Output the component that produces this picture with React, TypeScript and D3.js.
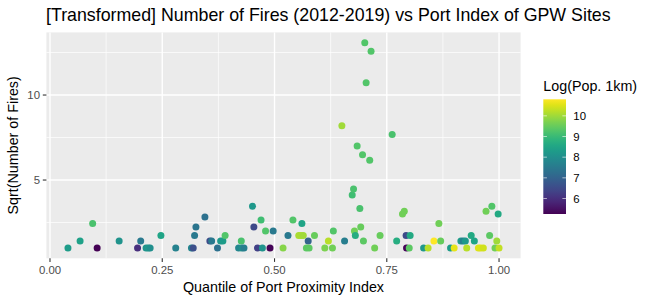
import { useEffect, useRef } from "react";
import * as d3 from "d3";

// quantile of port proximity index, one entry per site
const portQuantile = [
  0.040, 0.067, 0.095, 0.105, 0.154, 0.195, 0.202, 0.214, 0.219, 0.223,
  0.247, 0.280, 0.315, 0.319, 0.322, 0.325, 0.345, 0.356, 0.360, 0.373,
  0.380, 0.385, 0.390, 0.420, 0.426, 0.427, 0.432, 0.451, 0.454, 0.462,
  0.470, 0.473, 0.480, 0.490, 0.497, 0.519, 0.530, 0.541, 0.554, 0.559,
  0.564, 0.561, 0.575, 0.571, 0.577, 0.589, 0.612, 0.620, 0.629, 0.631,
  0.656, 0.673, 0.676, 0.678, 0.680, 0.690, 0.692, 0.698, 0.723, 0.735,
  0.772, 0.785, 0.789, 0.793, 0.802, 0.794, 0.800, 0.832, 0.842, 0.855,
  0.866, 0.870, 0.892, 0.900, 0.915, 0.920, 0.925, 0.928, 0.938, 0.945,
  0.954, 0.959, 0.965, 0.971, 0.979, 0.984, 0.991, 0.995, 0.998, 1.000,
  0.650, 0.684, 0.696, 0.712, 0.762, 0.701, 0.715, 0.704,
];

// sqrt(number of fires)
const sqrtFires = [
  1, 1.41, 2.45, 1, 1.41, 1, 1.41, 1, 1, 1,
  1.73, 1, 1, 1, 1.73, 2.24, 2.83, 1.41, 1.41, 1,
  1.41, 1.41, 1.73, 1, 1.41, 1, 1, 3.46, 2.24, 1,
  2.65, 1, 2, 1, 2, 1, 1.73, 2.65, 1.73, 1.73,
  1.73, 2.45, 1.41, 1, 1, 1.73, 1, 1.41, 1, 2,
  1.41, 4.12, 4.47, 2, 1.73, 3.32, 2.24, 1.41, 1, 1.73,
  1.41, 3, 3.16, 1.73, 1.73, 1, 1, 1, 1, 1.41,
  2.45, 1.41, 1, 1, 1.41, 1.41, 1.41, 1, 1.73, 1.41,
  1, 1, 1, 3.16, 1.73, 3.46, 1, 1.41, 3, 1,
  8.19, 7, 6.48, 6.16, 7.68, 13.08, 12.57, 10.72,
];

// log(population within 1km)
const logPop = [
  8.3, 8.4, 9.2, 5.25, 8.1, 6.0, 7.5, 8.1, 8.2, 8.0,
  8.5, 7.7, 7.8, 6.6, 7.5, 7.4, 7.3, 6.5, 7.5, 7.3,
  8.2, 8.3, 9.3, 7.8, 9.2, 8.0, 7.6, 8.2, 6.5, 6.3,
  9.1, 8.1, 9.3, 5.3, 7.5, 9.8, 7.5, 9.3, 10.1, 10.1,
  10.0, 8.5, 7.0, 9.4, 9.4, 9.5, 9.7, 10.2, 9.6, 9.3,
  7.6, 9.1, 9.2, 9.6, 8.7, 9.2, 9.5, 9.4, 9.6, 9.5,
  8.7, 9.6, 9.6, 6.5, 8.6, 5.3, 9.4, 8.2, 10.2, 10.8,
  9.6, 9.5, 8.3, 10.6, 8.3, 7.6, 8.2, 10.2, 8.6, 8.5,
  10.5, 10.5, 10.4, 9.6, 9.4, 9.3, 9.6, 10.0, 8.6, 10.3,
  10.0, 9.3, 9.3, 9.3, 9.2, 9.3, 9.3, 9.3,
];

const xBreaks = [0, 0.25, 0.5, 0.75, 1];
const xMinor = [0.125, 0.375, 0.625, 0.875];
const yBreaks = [5, 10];
const yMinor = [2.5, 7.5, 12.5];
const popBreaks = [6, 7, 8, 9, 10];

const W = 652;
const H = 303;
const FONT = "'Liberation Sans', Arial, sans-serif";

export default function App() {
  const svgRef = useRef<SVGSVGElement>(null);

  useEffect(() => {
    if (!svgRef.current) return;
    const svg = d3.select(svgRef.current);
    svg.selectAll("*").remove();

    const panel = { left: 46.4, right: 520.6, top: 32.4, bottom: 258.3 };

    // ggplot-style 5% expansion
    const xExt = d3.extent(portQuantile) as [number, number];
    const yExt = d3.extent(sqrtFires) as [number, number];
    const xPad = (xExt[1] - xExt[0]) * 0.05;
    const yPad = (yExt[1] - yExt[0]) * 0.05;

    const x = d3.scaleLinear()
      .domain([xExt[0] - xPad, xExt[1] + xPad])
      .range([panel.left, panel.right]);
    const y = d3.scaleLinear()
      .domain([yExt[0] - yPad, yExt[1] + yPad])
      .range([panel.bottom, panel.top]);

    const popExt = d3.extent(logPop) as [number, number];
    const color = d3.scaleSequential(d3.interpolateViridis).domain(popExt);

    svg.append("rect")
      .attr("width", W).attr("height", H).attr("fill", "#ffffff");

    // panel background + grid
    svg.append("rect")
      .attr("x", panel.left).attr("y", panel.top)
      .attr("width", panel.right - panel.left)
      .attr("height", panel.bottom - panel.top)
      .attr("fill", "#EBEBEB");

    const grid = svg.append("g").attr("stroke", "#ffffff");
    grid.selectAll(".xminor").data(xMinor).enter().append("line")
      .attr("x1", d => x(d)).attr("x2", d => x(d))
      .attr("y1", panel.top).attr("y2", panel.bottom)
      .attr("stroke-width", 0.7);
    grid.selectAll(".yminor").data(yMinor).enter().append("line")
      .attr("x1", panel.left).attr("x2", panel.right)
      .attr("y1", d => y(d)).attr("y2", d => y(d))
      .attr("stroke-width", 0.7);
    grid.selectAll(".xmajor").data(xBreaks).enter().append("line")
      .attr("x1", d => x(d)).attr("x2", d => x(d))
      .attr("y1", panel.top).attr("y2", panel.bottom)
      .attr("stroke-width", 1.4);
    grid.selectAll(".ymajor").data(yBreaks).enter().append("line")
      .attr("x1", panel.left).attr("x2", panel.right)
      .attr("y1", d => y(d)).attr("y2", d => y(d))
      .attr("stroke-width", 1.4);

    // points
    svg.append("g")
      .selectAll("circle")
      .data(portQuantile.map((q, i) => ({ q, f: sqrtFires[i], p: logPop[i] })))
      .enter()
      .append("circle")
      .attr("cx", d => x(d.q))
      .attr("cy", d => y(d.f))
      .attr("r", 3.5)
      .attr("fill", d => color(d.p));

    // axes
    const xAxis = svg.append("g");
    xAxis.selectAll("line").data(xBreaks).enter().append("line")
      .attr("x1", d => x(d)).attr("x2", d => x(d))
      .attr("y1", panel.bottom).attr("y2", panel.bottom + 3.6)
      .attr("stroke", "#333333").attr("stroke-width", 1.1);
    xAxis.selectAll("text").data(xBreaks).enter().append("text")
      .attr("x", d => x(d)).attr("y", 274)
      .attr("text-anchor", "middle")
      .attr("font-family", FONT).attr("font-size", 11.4)
      .attr("fill", "#4D4D4D")
      .text(d => d3.format(".2f")(d));

    const yAxis = svg.append("g");
    yAxis.selectAll("line").data(yBreaks).enter().append("line")
      .attr("x1", panel.left - 3.6).attr("x2", panel.left)
      .attr("y1", d => y(d)).attr("y2", d => y(d))
      .attr("stroke", "#333333").attr("stroke-width", 1.1);
    yAxis.selectAll("text").data(yBreaks).enter().append("text")
      .attr("x", 40).attr("y", d => y(d))
      .attr("dy", "0.36em")
      .attr("text-anchor", "end")
      .attr("font-family", FONT).attr("font-size", 11.4)
      .attr("fill", "#4D4D4D")
      .text(d => String(d));

    // titles
    svg.append("text")
      .attr("x", 46).attr("y", 20.5)
      .attr("font-family", FONT).attr("font-size", 17.8)
      .attr("fill", "#000000")
      .text("[Transformed] Number of Fires (2012-2019) vs Port Index of GPW Sites");

    svg.append("text")
      .attr("x", (panel.left + panel.right) / 2).attr("y", 292)
      .attr("text-anchor", "middle")
      .attr("font-family", FONT).attr("font-size", 14.3)
      .attr("fill", "#000000")
      .text("Quantile of Port Proximity Index");

    svg.append("text")
      .attr("transform", `translate(18,${(panel.top + panel.bottom) / 2}) rotate(-90)`)
      .attr("text-anchor", "middle")
      .attr("font-family", FONT).attr("font-size", 14.3)
      .attr("fill", "#000000")
      .text("Sqrt(Number of Fires)");

    // colour bar legend
    const bar = { x: 543.3, w: 22.7, top: 99.3, bottom: 214 };
    const barY = d3.scaleLinear().domain(popExt).range([bar.bottom, bar.top]);

    const grad = svg.append("defs").append("linearGradient")
      .attr("id", "pop-grad")
      .attr("x1", 0).attr("y1", 1).attr("x2", 0).attr("y2", 0);
    d3.range(0, 1.0001, 0.05).forEach(t => {
      grad.append("stop")
        .attr("offset", t)
        .attr("stop-color", color(popExt[0] + t * (popExt[1] - popExt[0])));
    });

    svg.append("text")
      .attr("x", bar.x).attr("y", 90.7)
      .attr("font-family", FONT).attr("font-size", 14.3)
      .attr("fill", "#000000")
      .text("Log(Pop. 1km)");

    svg.append("rect")
      .attr("x", bar.x).attr("y", bar.top)
      .attr("width", bar.w).attr("height", bar.bottom - bar.top)
      .attr("fill", "url(#pop-grad)");

    const legendTicks = svg.append("g").attr("stroke", "#ffffff").attr("stroke-width", 0.6);
    legendTicks.selectAll(".l").data(popBreaks).enter().append("line")
      .attr("x1", bar.x).attr("x2", bar.x + 3.6)
      .attr("y1", d => barY(d)).attr("y2", d => barY(d));
    legendTicks.selectAll(".r").data(popBreaks).enter().append("line")
      .attr("x1", bar.x + bar.w - 3.6).attr("x2", bar.x + bar.w)
      .attr("y1", d => barY(d)).attr("y2", d => barY(d));

    svg.append("g").selectAll("text").data(popBreaks).enter().append("text")
      .attr("x", 573.3).attr("y", d => barY(d))
      .attr("dy", "0.36em")
      .attr("font-family", FONT).attr("font-size", 11.4)
      .attr("fill", "#000000")
      .text(d => String(d));
  }, []);

  return (
    <svg
      ref={svgRef}
      width={W}
      height={H}
      style={{ position: "absolute", left: 0, top: 0, display: "block" }}
    />
  );
}
